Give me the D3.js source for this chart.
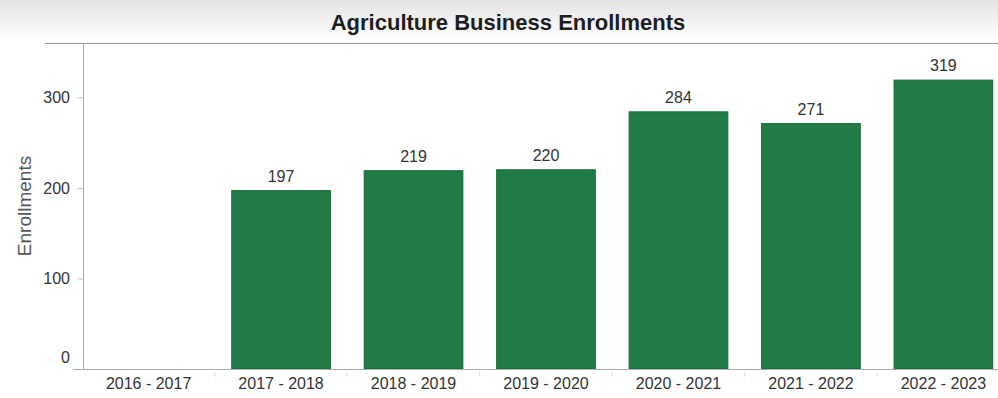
<!DOCTYPE html>
<html>
<head>
<meta charset="utf-8">
<script src="https://cdn.jsdelivr.net/npm/d3@7"></script>
<style>
  body { margin: 0; background: #fff; }
  text { font-family: "Liberation Sans", Arial, sans-serif; }
</style>
</head>
<body>
<div class="chart"></div>
<script>
var years = ["2016 - 2017", "2017 - 2018", "2018 - 2019", "2019 - 2020", "2020 - 2021", "2021 - 2022", "2022 - 2023"];
var enrollments = [null, 197, 219, 220, 284, 271, 319];
var yTicks = [0, 100, 200, 300];

var svgWidth = 998;
var svgHeight = 398;

var svg = d3.select(".chart")
  .append("svg")
  .attr("width", svgWidth)
  .attr("height", svgHeight);

// faint grey haze behind the title
var defs = svg.append("defs");
var grad = defs.append("linearGradient").attr("id", "haze").attr("x1", 0).attr("y1", 0).attr("x2", 0).attr("y2", 1);
grad.append("stop").attr("offset", "0%").attr("stop-color", "#e4e4e4");
grad.append("stop").attr("offset", "100%").attr("stop-color", "#ffffff");
svg.append("rect").attr("x", 0).attr("y", 0).attr("width", svgWidth).attr("height", 42).attr("fill", "url(#haze)");

var plotLeft = 83, plotTop = 43, plotBottom = 369;

var x = d3.scaleBand()
  .domain(years)
  .range([86, 1006])
  .paddingInner(0.255)
  .paddingOuter(0.1);

var y = d3.scaleLinear()
  .domain([0, 360])
  .range([plotBottom, plotTop]);

// title
svg.append("text")
  .attr("x", 508)
  .attr("y", 30)
  .attr("text-anchor", "middle")
  .attr("font-size", 22)
  .attr("font-weight", "bold")
  .attr("fill", "#1e1e1e")
  .text("Agriculture Business Enrollments");

// top frame line
svg.append("line")
  .attr("x1", 45).attr("x2", svgWidth)
  .attr("y1", plotTop + 0.5).attr("y2", plotTop + 0.5)
  .attr("stroke", "#999");

var barData = years.map((d, i) => ({ year: d, value: enrollments[i] })).filter(d => d.value != null);

// bars
svg.selectAll("rect.bar")
  .data(barData)
  .enter()
  .append("rect")
  .attr("class", "bar")
  .attr("x", d => x(d.year))
  .attr("y", d => y(d.value))
  .attr("width", x.bandwidth())
  .attr("height", d => y(0) - y(d.value))
  .attr("fill", "#217b47")
  .attr("stroke", "#1a6b3c")
  .attr("stroke-width", 1);

// value labels
svg.selectAll("text.val")
  .data(barData)
  .enter()
  .append("text")
  .attr("class", "val")
  .attr("x", d => x(d.year) + x.bandwidth() / 2)
  .attr("y", d => y(d.value) - 9)
  .attr("text-anchor", "middle")
  .attr("font-size", 16)
  .attr("fill", "#333")
  .text(d => d.value);

// y axis
var yAxis = d3.axisLeft(y).tickValues(yTicks).tickSize(5).tickPadding(8);
var gy = svg.append("g").attr("transform", `translate(${plotLeft}, 0)`).call(yAxis);
gy.select(".domain").attr("stroke", "#aaa").attr("d", `M0.5,${plotTop}V${plotBottom + 1}`);
gy.selectAll(".tick line").attr("stroke", "#bbb");
gy.selectAll(".tick text").attr("font-size", 16).attr("fill", "#333")
  .attr("font-family", "Liberation Sans, Arial, sans-serif");
// the zero label sits a bit above the baseline, no tick mark
gy.selectAll(".tick").filter(d => d === 0).select("line").remove();
gy.selectAll(".tick").filter(d => d === 0).select("text").attr("y", -12);

// x axis
var xAxis = d3.axisBottom(x).tickSize(0).tickPadding(9);
var gx = svg.append("g").attr("transform", `translate(0, ${plotBottom})`).call(xAxis);
gx.select(".domain").attr("stroke", "#aaa").attr("d", `M${plotLeft - 10},0.5H${svgWidth}`);
gx.selectAll(".tick text").attr("font-size", 16).attr("fill", "#333")
  .attr("font-family", "Liberation Sans, Arial, sans-serif");

// faint separators between categories
svg.selectAll("line.sep")
  .data(years.slice(1))
  .enter()
  .append("line")
  .attr("class", "sep")
  .attr("x1", d => x(d) - x.step() * x.paddingInner() / 2)
  .attr("x2", d => x(d) - x.step() * x.paddingInner() / 2)
  .attr("y1", plotBottom + 3)
  .attr("y2", plotBottom + 8)
  .attr("stroke", "#ddd");

// y axis title
svg.append("text")
  .attr("transform", "rotate(-90)")
  .attr("x", -206)
  .attr("y", 31)
  .attr("text-anchor", "middle")
  .attr("font-size", 19)
  .attr("fill", "#555")
  .text("Enrollments");
</script>
</body>
</html>
